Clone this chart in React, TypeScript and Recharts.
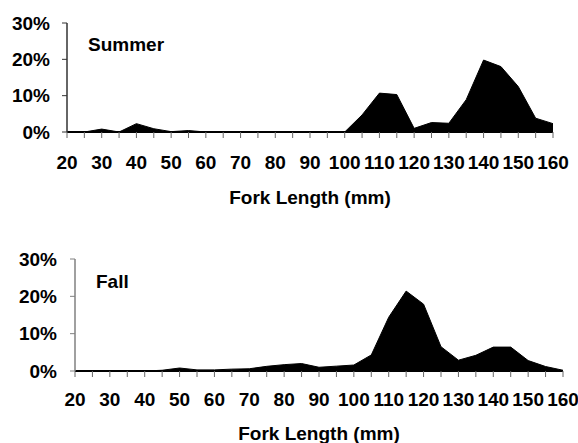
import { AreaChart, Area, XAxis, YAxis } from "recharts";

const lengths = [20, 25, 30, 35, 40, 45, 50, 55, 60, 65, 70, 75, 80, 85, 90, 95, 100, 105, 110, 115, 120, 125, 130, 135, 140, 145, 150, 155, 160];
const summer = [0, 0, 0.8, 0, 2.3, 0.9, 0.1, 0.4, 0, 0, 0, 0, 0, 0, 0, 0, 0, 4.7, 10.7, 10.3, 1.0, 2.6, 2.4, 8.9, 19.8, 18.0, 12.5, 3.8, 2.3];
const fall = [0, 0, 0, 0, 0, 0.2, 0.8, 0.3, 0.3, 0.5, 0.6, 1.25, 1.7, 2.0, 1.0, 1.3, 1.6, 4.3, 14.4, 21.4, 17.9, 6.5, 2.9, 4.2, 6.4, 6.4, 2.8, 1.2, 0.2];
const pctTicks = [0, 10, 20, 30];
const xTitle = "Fork Length (mm)";

const font = "'Liberation Sans', Arial, sans-serif";
const fs = 19;
const tickText = { fill: "#000", fontSize: fs, fontWeight: 700, fontFamily: font };

const summerData = lengths.map((len, i) => ({ len, pct: summer[i] }));
const fallData = lengths.map((len, i) => ({ len, pct: fall[i] }));

function Panel({
  data,
  name,
  height,
  margin,
  xAxisHeight,
  xTickMargin,
  yTickMargin,
  yAxisColor,
  titleOffset,
  nameX,
  nameY,
}: {
  data: { len: number; pct: number }[];
  name: string;
  height: number;
  margin: { top: number; right: number; left: number; bottom: number };
  xAxisHeight: number;
  xTickMargin: number;
  yTickMargin: number;
  yAxisColor: string;
  titleOffset: number;
  nameX: number;
  nameY: number;
}) {
  return (
    <div style={{ position: "relative", width: 578, height }}>
      <AreaChart width={578} height={height} data={data} margin={margin}>
        <XAxis
          dataKey="len"
          type="number"
          domain={[20, 160]}
          ticks={lengths}
          interval={0}
          height={xAxisHeight}
          tickSize={6}
          tickMargin={xTickMargin}
          tickFormatter={(v) => (v % 10 === 0 ? `${v}` : "")}
          tick={tickText}
          tickLine={{ stroke: "#666" }}
          axisLine={{ stroke: "#000", strokeWidth: 2 }}
          label={{
            value: xTitle,
            position: "insideBottom",
            offset: titleOffset,
            style: { ...tickText },
          }}
        />
        <YAxis
          type="number"
          domain={[0, 30]}
          ticks={pctTicks}
          width={60}
          tickSize={5}
          tickMargin={yTickMargin}
          tickFormatter={(v) => `${v}%`}
          tick={tickText}
          tickLine={{ stroke: yAxisColor }}
          axisLine={{ stroke: yAxisColor, strokeWidth: 1.5 }}
        />
        <Area
          type="linear"
          dataKey="pct"
          stroke="#000"
          strokeWidth={1}
          fill="#000"
          fillOpacity={1}
          isAnimationActive={false}
        />
      </AreaChart>
      <div
        style={{
          position: "absolute",
          left: nameX,
          top: nameY,
          fontFamily: font,
          fontWeight: 700,
          fontSize: fs,
          lineHeight: 1,
          color: "#000",
        }}
      >
        {name}
      </div>
    </div>
  );
}

export default function App() {
  return (
    <div style={{ position: "absolute", left: 0, top: 0, width: 578, height: 443, background: "#fff", overflow: "hidden" }}>
      <div style={{ position: "absolute", left: 0, top: 0 }}>
        <Panel
          data={summerData}
          name="Summer"
          height={212}
          margin={{ top: 23, right: 25, left: 7, bottom: 0 }}
          xAxisHeight={80}
          xTickMargin={18}
          yTickMargin={12}
          yAxisColor="#333"
          titleOffset={8}
          nameX={88}
          nameY={35}
        />
      </div>
      <div style={{ position: "absolute", left: 0, top: 236 }}>
        <Panel
          data={fallData}
          name="Fall"
          height={207}
          margin={{ top: 23, right: 15, left: 15, bottom: 0 }}
          xAxisHeight={72}
          xTickMargin={16}
          yTickMargin={13}
          yAxisColor="#808080"
          titleOffset={3}
          nameX={96}
          nameY={36}
        />
      </div>
    </div>
  );
}
